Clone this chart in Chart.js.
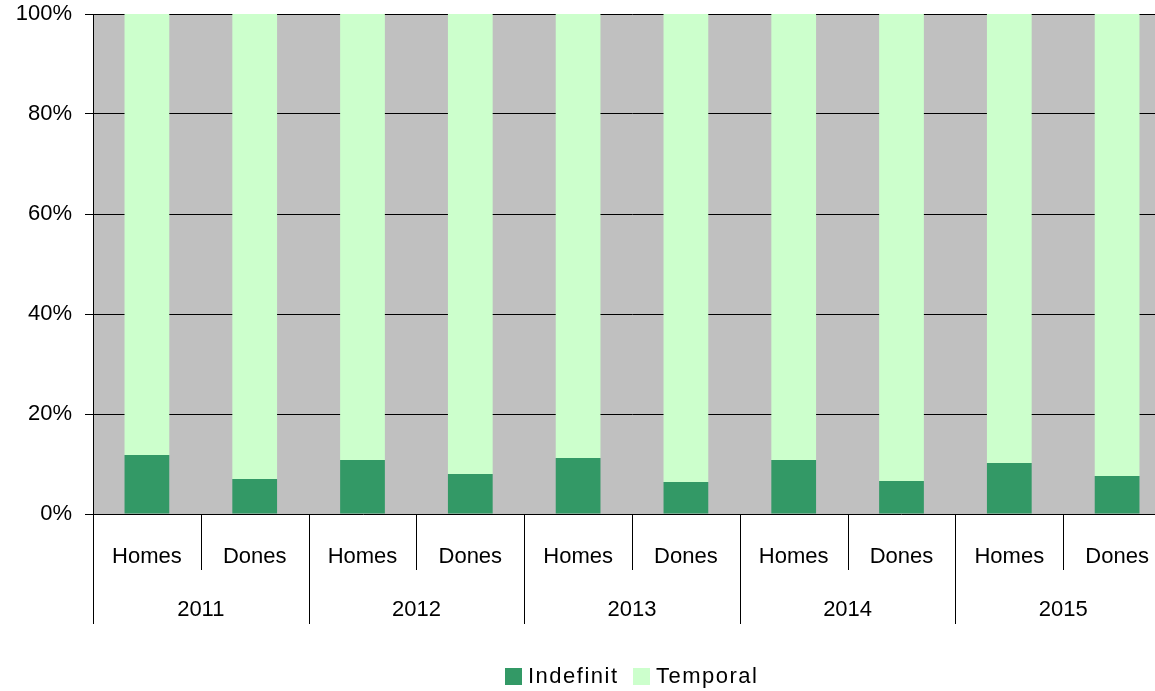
<!DOCTYPE html>
<html>
<head>
<meta charset="utf-8">
<script src="https://cdn.jsdelivr.net/npm/chart.js@4/dist/chart.umd.min.js"></script>
<style>
  html, body { margin: 0; padding: 0; background: #fff; overflow: hidden; }
  #wrap { width: 1171px; height: 691px; }
</style>
</head>
<body>
<div id="wrap"><canvas id="chart" width="1171" height="691"></canvas></div>
<script>
// ─── DATA ─────────────────────────────────────────────
const years     = ['2011', '2012', '2013', '2014', '2015'];
const sexes     = ['Homes', 'Dones'];
const indefinit = [11.8, 7.0, 10.8, 8.0, 11.2, 6.4, 10.8, 6.6, 10.2, 7.6];
const temporal  = [88.2, 93.0, 89.2, 92.0, 88.8, 93.6, 89.2, 93.4, 89.8, 92.4];
const yTicks    = ['0%', '20%', '40%', '60%', '80%', '100%'];

const labels = years.flatMap(y => sexes.map(s => s + ' ' + y));
const FONT = '"Liberation Sans", Arial, sans-serif';

// gray plot background
const plotBg = {
    id: 'plotBg',
    beforeDraw(chart) {
        const { ctx, chartArea: a } = chart;
        ctx.save();
        ctx.fillStyle = '#c0c0c0';
        ctx.fillRect(a.left, a.top, a.right - a.left, a.bottom - a.top);
        ctx.restore();
    },
};

// two-level category axis + legend
const axisAndLegend = {
    id: 'axisAndLegend',
    afterDraw(chart) {
        const { ctx, chartArea: a } = chart;
        const x = chart.scales.x;
        const n = labels.length;
        const w = (a.right - a.left) / n;
        ctx.save();
        ctx.strokeStyle = '#000';
        ctx.lineWidth = 1;
        // dividers
        for (let i = 0; i <= n; i++) {
            const px = Math.round(a.left + i * w) + 0.5;
            const long = i % 2 === 0;
            ctx.beginPath();
            ctx.moveTo(px, a.bottom);
            ctx.lineTo(px, long ? a.bottom + 110 : a.bottom + 56);
            ctx.stroke();
        }
        ctx.fillStyle = '#000';
        ctx.font = '22px ' + FONT;
        ctx.textAlign = 'center';
        ctx.textBaseline = 'middle';
        for (let i = 0; i < n; i++) {
            ctx.fillText(sexes[i % 2], x.getPixelForValue(i), a.bottom + 43);
        }
        years.forEach((y, g) => {
            const cx = (x.getPixelForValue(g * 2) + x.getPixelForValue(g * 2 + 1)) / 2;
            ctx.fillText(y, cx, a.bottom + 96);
        });

        // legend
        const items = [
            { text: 'Indefinit', color: '#339966', x: 505 },
            { text: 'Temporal',  color: '#ccffcc', x: 633 },
        ];
        ctx.textAlign = 'left';
        ctx.letterSpacing = '1.5px';
        const ly = 677;
        items.forEach(it => {
            ctx.fillStyle = it.color;
            ctx.fillRect(it.x, ly - 9, 17, 17);
            ctx.fillStyle = '#000';
            ctx.fillText(it.text, it.x + 23, ly);
        });
        ctx.restore();
    },
};

new Chart(document.getElementById('chart'), {
    type: 'bar',
    data: {
        labels,
        datasets: [
            { label: 'Indefinit', data: indefinit, backgroundColor: '#339966' },
            { label: 'Temporal',  data: temporal,  backgroundColor: '#ccffcc' },
        ],
    },
    options: {
        responsive: false,
        animation: false,
        layout: { padding: { top: 14, bottom: 177, left: 0, right: 0 } },
        datasets: { bar: { barPercentage: 0.415, categoryPercentage: 1 } },
        plugins: {
            legend: { display: false },
            tooltip: { enabled: false },
        },
        scales: {
            x: { stacked: true, display: false },
            y: {
                stacked: true,
                min: 0,
                max: 100,
                afterFit: s => { s.width = 93; s.paddingTop = 0; s.paddingBottom = 0; },
                border: { color: '#000', width: 1 },
                grid: { color: '#000', lineWidth: 1, tickLength: 8, drawTicks: true },
                ticks: {
                    stepSize: 20,
                    padding: 13,
                    color: '#000',
                    font: { family: FONT, size: 22 },
                    callback: (v) => yTicks[v / 20],
                },
            },
        },
    },
    plugins: [plotBg, axisAndLegend],
});
</script>
</body>
</html>
